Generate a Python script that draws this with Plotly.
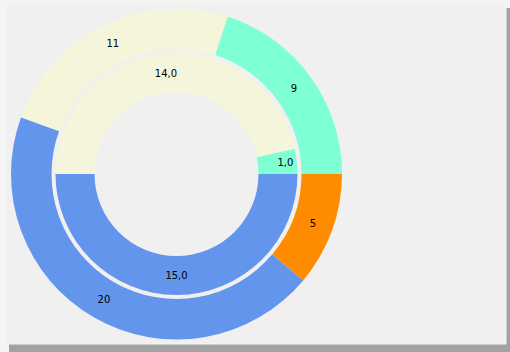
import plotly.graph_objects as go

# Data
outer_labels = ["A", "B", "C", "D"]
outer_values = [9, 11, 20, 5]
outer_colors = ["#7FFFD4", "#F5F5DC", "#6495ED", "#FF8C00"]

inner_labels = ["A", "B", "C"]
inner_values = [1.0, 14.0, 15.0]
inner_colors = ["#7FFFD4", "#F5F5DC", "#6495ED"]

W, H = 510, 352

def px_x(x):
    return x / W

def px_y(y):
    return 1 - y / H

# geometry (pixels)
cx, cy = 176.5, 174.0
r_out, r_out_hole = 165.5, 125.0
r_in, r_in_hole = 121.0, 82.0

def dom(r):
    return dict(x=[px_x(cx - r), px_x(cx + r)], y=[px_y(cy + r), px_y(cy - r)])

def start_rot(vals):
    # plotly counterclockwise: first slice ends at rotation; we want it to start at 3 o'clock
    return 90 - 360.0 * vals[0] / sum(vals)

font = dict(family="DejaVu Sans", size=10, color="black")

fig = go.Figure()
fig.add_trace(go.Pie(
    labels=outer_labels, values=outer_values, sort=False,
    direction="counterclockwise", rotation=start_rot(outer_values),
    hole=r_out_hole / r_out, domain=dom(r_out),
    marker=dict(colors=outer_colors, line=dict(width=0)),
    texttemplate="%{value}", textposition="inside",
    insidetextorientation="horizontal", textfont=font,
    showlegend=False, hoverinfo="label+value",
))
fig.add_trace(go.Pie(
    labels=inner_labels, values=inner_values, sort=False,
    direction="counterclockwise", rotation=start_rot(inner_values),
    hole=r_in_hole / r_in, domain=dom(r_in),
    marker=dict(colors=inner_colors, line=dict(width=0)),
    texttemplate="%{value:.1f}", textposition="inside",
    insidetextorientation="horizontal", textfont=font,
    showlegend=False, hoverinfo="label+value",
))

shapes = []
# shadow
shadow_cols = ["#cfcfcf", "#bdbdbd", "#adadad", "#a2a2a2"]
for i, c in enumerate(shadow_cols):
    shapes.append(dict(type="rect", xref="paper", yref="paper", layer="below",
                       x0=px_x(9), y0=px_y(352 - (3 - i) * 2), x1=px_x(510 - (3 - i) * 1), y1=px_y(8),
                       fillcolor=c, line=dict(width=0)))
# panel
shapes.append(dict(type="rect", xref="paper", yref="paper", layer="below",
                   x0=px_x(5), y0=px_y(344), x1=px_x(506), y1=px_y(4),
                   fillcolor="#f0f0f0", line=dict(width=1, color="#f7f7f7")))

fig.update_layout(
    width=W, height=H, margin=dict(l=0, r=0, t=0, b=0),
    paper_bgcolor="#f4f4f4", plot_bgcolor="#f4f4f4",
    separators=",.",
    uniformtext=dict(minsize=10, mode="show"),
    shapes=shapes,
)

fig.write_html("out.html")
